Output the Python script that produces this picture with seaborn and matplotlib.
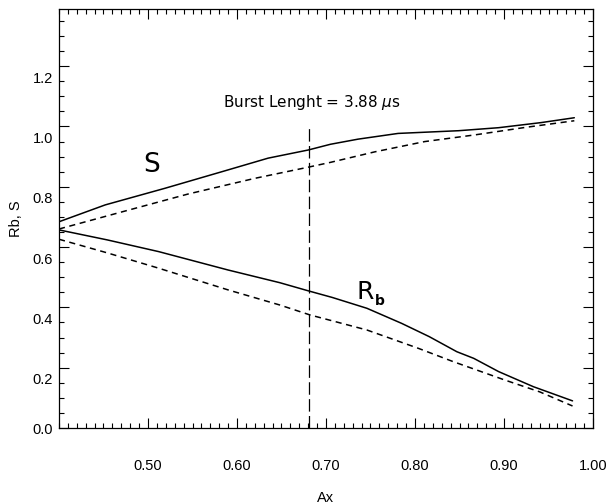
import numpy as np
import pandas as pd
import matplotlib
matplotlib.use("Agg")
import matplotlib.pyplot as plt
import matplotlib.transforms as mtransforms
from matplotlib.ticker import FixedLocator, MultipleLocator
import seaborn as sns

# ---- data ----
s_solid_x = [0.400, 0.452, 0.519, 0.583, 0.635, 0.680, 0.705, 0.736, 0.781, 0.849, 0.894, 0.942, 0.979]
s_solid_y = [0.684, 0.740, 0.795, 0.850, 0.895, 0.922, 0.941, 0.958, 0.977, 0.986, 0.996, 1.013, 1.029]

s_dash_x = [0.400, 0.471, 0.545, 0.620, 0.680, 0.705, 0.755, 0.811, 0.867, 0.924, 0.979]
s_dash_y = [0.660, 0.717, 0.776, 0.828, 0.865, 0.881, 0.916, 0.950, 0.972, 0.997, 1.019]

rb_solid_x = [0.400, 0.454, 0.512, 0.590, 0.648, 0.680, 0.707, 0.746, 0.785, 0.816, 0.847, 0.866, 0.894, 0.933, 0.977]
rb_solid_y = [0.657, 0.624, 0.585, 0.524, 0.482, 0.455, 0.433, 0.397, 0.347, 0.303, 0.253, 0.231, 0.187, 0.137, 0.090]

rb_dash_x = [0.400, 0.454, 0.512, 0.590, 0.648, 0.682, 0.746, 0.804, 0.843, 0.901, 0.940, 0.977]
rb_dash_y = [0.626, 0.581, 0.530, 0.458, 0.408, 0.375, 0.325, 0.264, 0.220, 0.159, 0.120, 0.073]

burst_x = 0.681
burst_top = 1.0

x_ticks = [0.5, 0.6, 0.7, 0.8, 0.9, 1.0]
x_tick_labels = ["0.50", "0.60", "0.70", "0.80", "0.90", "1.00"]
y_ticks = [0.0, 0.2, 0.4, 0.6, 0.8, 1.0, 1.2]
y_tick_labels = ["0.0", "0.2", "0.4", "0.6", "0.8", "1.0", "1.2"]

# ---- style ----
sns.set_style("ticks")
plt.rcParams["font.family"] = ["Liberation Sans", "DejaVu Sans"]
for k in ["text.color", "axes.labelcolor", "xtick.color", "ytick.color", "axes.edgecolor"]:
    plt.rcParams[k] = "black"

fig = plt.figure(figsize=(6.08, 5.04), dpi=100)
ax = fig.add_axes([59 / 608, 1 - 428 / 504, (593 - 59) / 608, (428 - 9.5) / 504])

lw = 1.1
sns.lineplot(x=s_solid_x, y=s_solid_y, ax=ax, color="black", linewidth=lw, sort=False)
sns.lineplot(x=s_dash_x, y=s_dash_y, ax=ax, color="black", linewidth=lw, sort=False).lines[-1].set_dashes([4, 3])
sns.lineplot(x=rb_solid_x, y=rb_solid_y, ax=ax, color="black", linewidth=lw, sort=False)
sns.lineplot(x=rb_dash_x, y=rb_dash_y, ax=ax, color="black", linewidth=lw, sort=False).lines[-1].set_dashes([4, 3])

ax.plot([burst_x, burst_x], [0, burst_top], color="black", linewidth=0.9, dashes=[10, 3.5])

ax.set_xlim(0.4, 1.0)
ax.set_ylim(0, 1.388)

ax.xaxis.set_major_locator(FixedLocator(x_ticks))
ax.set_xticklabels(x_tick_labels)
ax.xaxis.set_minor_locator(MultipleLocator(0.01))
ax.yaxis.set_major_locator(FixedLocator(y_ticks))
ax.set_yticklabels(y_tick_labels)
ax.yaxis.set_minor_locator(MultipleLocator(0.05))

ax.tick_params(which="both", direction="in", top=True, right=True, color="black", width=0.8)
ax.tick_params(which="major", length=7.2)
ax.tick_params(which="minor", length=3.4)
ax.tick_params(axis="x", which="major", pad=22, labelsize=10.5)
ax.tick_params(axis="y", which="major", pad=4.3, labelsize=10.5)
for sp in ax.spines.values():
    sp.set_linewidth(0.9)
    sp.set_color("black")

ax.set_xlabel("Ax", fontsize=10.5, labelpad=13)
ax.set_ylabel("Rb, S", fontsize=10.5, labelpad=7)

ax.text(0.684, 1.078, r"Burst Lenght = 3.88 $\mu$s", family="DejaVu Sans",
        fontsize=11, ha="center", va="center")
ax.text(0.504, 0.872, "S", family="DejaVu Sans", fontsize=19, ha="center", va="center")
ax.text(0.7445, 0.452, "R", family="DejaVu Sans", fontsize=18, ha="center", va="center")
ax.text(0.7605, 0.420, "b", family="DejaVu Sans", fontsize=10, fontweight="bold",
        ha="center", va="center")

# shift y tick labels (except 0.0) slightly below their ticks, as in the reference
fig.canvas.draw()
offset = mtransforms.ScaledTranslation(0, -11 / 100, fig.dpi_scale_trans)
for lab in ax.get_yticklabels()[1:]:
    lab.set_transform(lab.get_transform() + offset)

fig.savefig("out.png", dpi=100)
